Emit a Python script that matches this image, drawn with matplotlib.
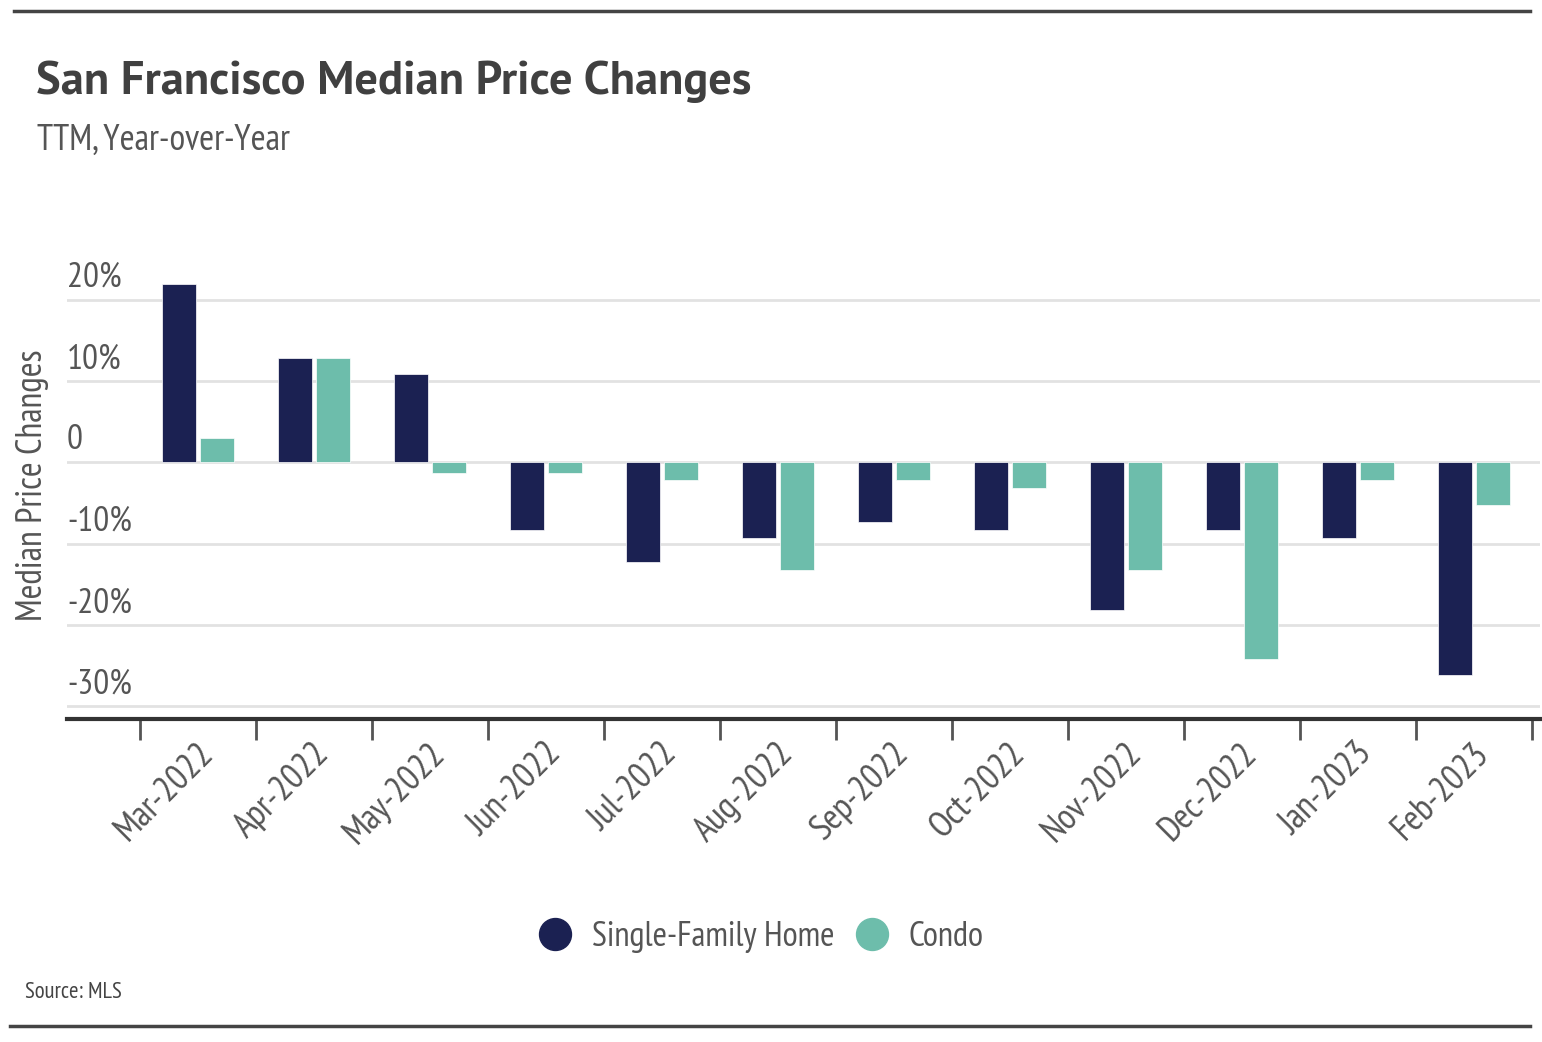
import matplotlib
matplotlib.use('Agg')
import matplotlib.pyplot as plt
from matplotlib import font_manager
from matplotlib.lines import Line2D
from matplotlib.transforms import ScaledTranslation
import numpy as np

months = ['Mar-2022', 'Apr-2022', 'May-2022', 'Jun-2022', 'Jul-2022', 'Aug-2022',
          'Sep-2022', 'Oct-2022', 'Nov-2022', 'Dec-2022', 'Jan-2023', 'Feb-2023']
single_family = [21.9, 12.9, 10.9, -8.3, -12.2, -9.3, -7.3, -8.3, -18.1, -8.3, -9.3, -26.2]
condo = [3.0, 12.9, -1.3, -1.3, -2.2, -13.2, -2.2, -3.2, -13.2, -24.2, -2.2, -5.2]
yticks = [-30, -20, -10, 0, 10, 20]
ytick_labels = ['-30%', '-20%', '-10%', '0', '10%', '20%']

navy = '#1b2152'
teal = '#6dbdab'
text_col = '#555555'


def pick(cands):
    for c in cands:
        try:
            font_manager.findfont(font_manager.FontProperties(family=c), fallback_to_default=False)
            return c
        except Exception:
            pass
    return 'DejaVu Sans'


narrow = [pick(['PT Sans Narrow', 'Archivo Narrow', 'Asap Condensed']), 'DejaVu Sans']
titlefont = [pick(['PT Sans', 'Lato', 'Open Sans']), 'DejaVu Sans']

plt.rcParams['font.family'] = narrow

fig = plt.figure(figsize=(15.42, 10.42), dpi=100)
ax = fig.add_axes([67 / 1542, 1 - 719 / 1042, (1540 - 67) / 1542, (719 - 251) / 1042])

x = np.arange(len(months))
w = 0.29
ax.bar(x - 0.165, single_family, w, color=navy, edgecolor='white', linewidth=0.5)
ax.bar(x + 0.165, condo, w, color=teal, edgecolor='white', linewidth=0.5)

ax.set_xlim(-1.13, 11.57)
ax.set_ylim(-31.55, 26)

# gridlines
ax.set_yticks(yticks)
ax.yaxis.grid(True, color='#e2e2e2', linewidth=2)
ax.set_axisbelow(True)
ax.tick_params(axis='y', length=0, labelleft=False)
for v, lab in zip(yticks, ytick_labels):
    ax.text(0, v, lab, transform=ax.get_yaxis_transform() + ScaledTranslation(0, 0.22, fig.dpi_scale_trans),
            ha='left', va='center', fontsize=25.5, color=text_col)

# x ticks: marks on boundaries, labels at centres
ax.set_xticks(np.arange(-0.5, 12, 1))
ax.set_xticks(x, minor=True)
ax.tick_params(axis='x', which='major', length=15, width=2, color='#555555', direction='out',
               labelbottom=False)
ax.tick_params(axis='x', which='minor', length=0, pad=21)
ax.set_xticklabels(months, minor=True)
for lbl in ax.get_xticklabels(minor=True):
    lbl.set_rotation(45)
    lbl.set_rotation_mode('anchor')
    lbl.set_ha('right')
    lbl.set_va('center')
    lbl.set_fontsize(26)
    lbl.set_color(text_col)
    lbl.set_transform(lbl.get_transform() + ScaledTranslation(0.1, 0, fig.dpi_scale_trans))

for s in ['top', 'right', 'left']:
    ax.spines[s].set_visible(False)
ax.spines['bottom'].set_color('#333333')
ax.spines['bottom'].set_linewidth(3)

fig.text(33 / 1542, 1 - 485 / 1042, 'Median Price Changes', rotation=90, ha='center', va='center',
         fontsize=25.7, color=text_col)

# title block
fig.text(36 / 1542, 1 - 82 / 1042, 'San Francisco Median Price Changes', ha='left', va='center',
         fontsize=33.5, fontweight='bold', color='#404040', family=titlefont)
fig.text(37 / 1542, 1 - 140 / 1042, 'TTM, Year-over-Year', ha='left', va='center',
         fontsize=26, color=text_col)
fig.text(25 / 1542, 1 - 993 / 1042, 'Source: MLS', ha='left', va='center', fontsize=16.4, color='#444444')

handles = [Line2D([], [], marker='o', linestyle='none', markersize=23, color=navy),
           Line2D([], [], marker='o', linestyle='none', markersize=23, color=teal)]
fig.legend(handles, ['Single-Family Home', 'Condo'], loc='center', bbox_to_anchor=(761 / 1542, 1 - 937 / 1042),
           ncol=2, frameon=False, fontsize=25, handletextpad=0.6, columnspacing=0.6,
           labelcolor=text_col, handlelength=0.95)

# horizontal rules
fig.add_artist(Line2D([14 / 1542, 1530 / 1542], [1 - 11 / 1042, 1 - 11 / 1042], color='#444444', linewidth=2.5))
fig.add_artist(Line2D([10 / 1542, 1530 / 1542], [1 - 1026 / 1042, 1 - 1026 / 1042], color='#444444', linewidth=2.5))

fig.savefig('out.png', dpi=100)
